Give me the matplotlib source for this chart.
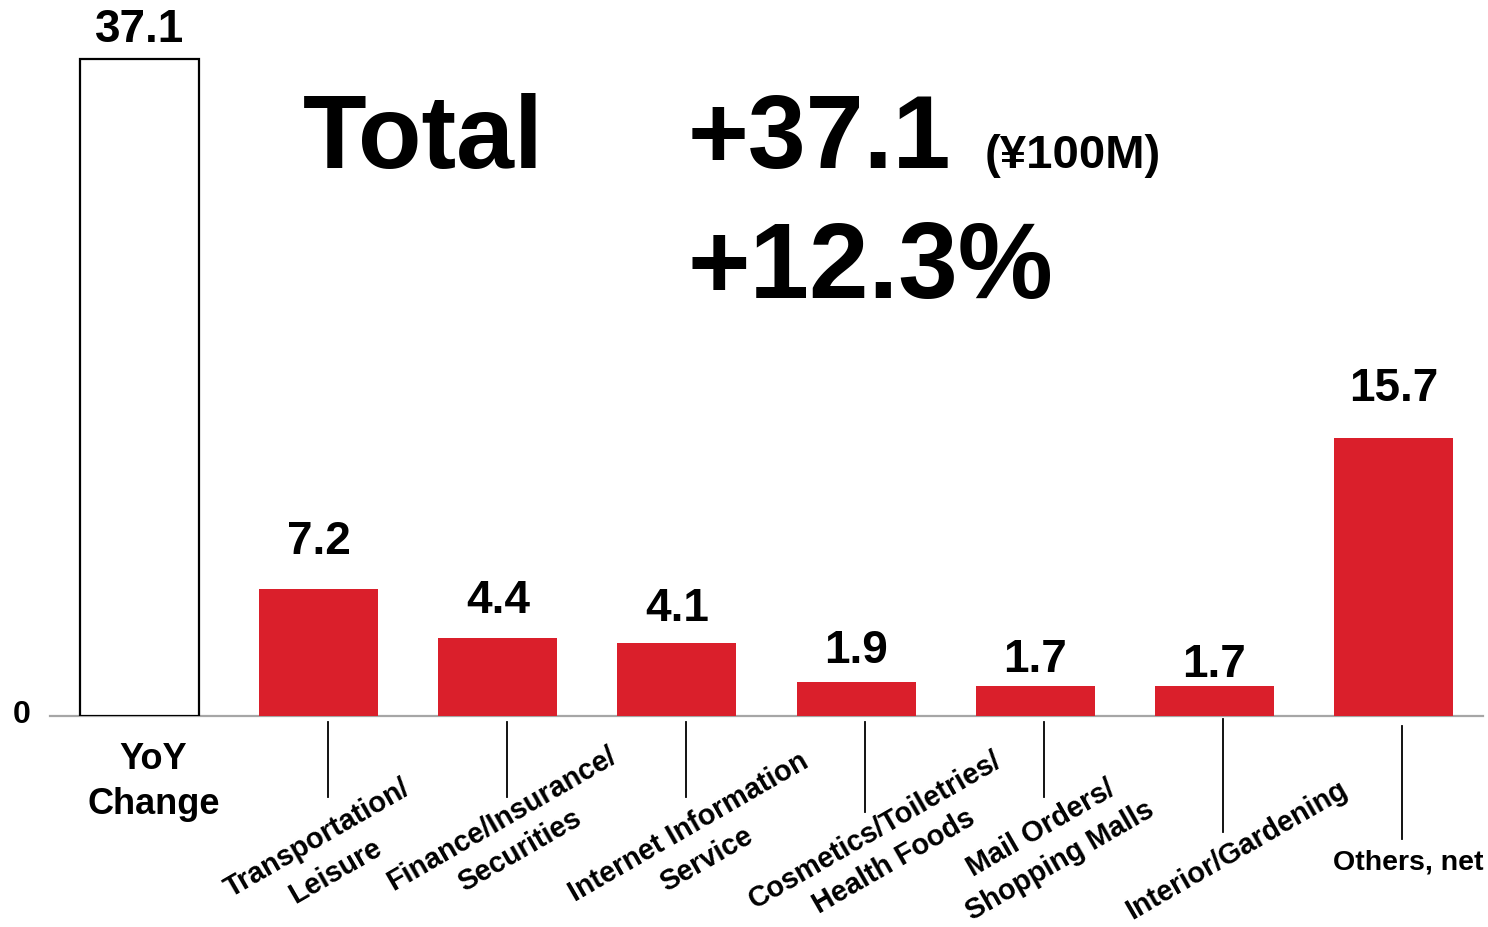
import math
import matplotlib.pyplot as plt

# YoY change by category (unit: 100M yen)
categories = ["YoY\nChange", "Transportation/\nLeisure", "Finance/Insurance/\nSecurities",
              "Internet Information\nService", "Cosmetics/Toiletries/\nHealth Foods",
              "Mail Orders/\nShopping Malls", "Interior/Gardening", "Others, net"]
values = [37.1, 7.2, 4.4, 4.1, 1.9, 1.7, 1.7, 15.7]
total_change = 37.1
total_pct = 12.3

W, H = 1488, 928
RED = "#da1f2b"

plt.rcParams["font.family"] = ["Liberation Sans", "DejaVu Sans"]
plt.rcParams["font.weight"] = "bold"

fig = plt.figure(figsize=(W / 100, H / 100), dpi=100)
ax_left, ax_base, ax_right = 50, 717, 1483
ax = fig.add_axes([ax_left / W, (H - ax_base) / H, (ax_right - ax_left) / W, ax_base / H])

x = list(range(len(values)))
colors = ["white"] + [RED] * (len(values) - 1)
edges = ["black"] + [RED] * (len(values) - 1)
lws = [1.6] + [0] * (len(values) - 1)
ax.bar(x, values, width=0.665, color=colors, edgecolor=edges, linewidth=lws, zorder=3)

ax.set_xlim(-0.5, 7.5)
ax.set_ylim(0, 40.5)
for side in ["left", "right", "top"]:
    ax.spines[side].set_visible(False)
ax.spines["bottom"].set_color("#a6a6a6")
ax.spines["bottom"].set_linewidth(1.6)
ax.set_xticks([])
ax.set_yticks([])

# "0" at the baseline
fig.text(22 / W, 1 - 715 / H, "0", ha="center", va="center", fontsize=23, fontweight="bold")

# value labels above bars
label_gap_px = [34, 52, 42, 40, 37, 31, 26, 54]
for i, v in enumerate(values):
    ax.annotate(f"{v:.1f}", xy=(i, v), xytext=(0, label_gap_px[i] * 0.72 - 3),
                textcoords="offset points", ha="center", va="center",
                fontsize=33, fontweight="bold")


def px_to_axes_y(ypix):
    return (ax_base - ypix) / ax_base


def px_to_data_x(xpix):
    return (xpix - 139) / 179.1


# leader lines below the axis
leader_top = [723, 723, 723, 723, 723, 720, 727]
leader_bottom = [798, 798, 798, 813, 798, 833, 840]
trans = ax.get_xaxis_transform()
for k, i in enumerate(range(1, len(values))):
    lx = i + 0.05
    ax.plot([lx, lx], [px_to_axes_y(leader_top[k]), px_to_axes_y(leader_bottom[k])],
            color="black", lw=1.3, transform=trans, clip_on=False)

# category labels, one text per line so each line sits on its own
label_x_px = [153, 326, 510, 697, 884, 1050, 1236, 1408]
label_y_px = [782, 855, 835, 843, 846, 845, 850, 863]
label_rot = [0, 30, 30, 30, 30, 30, 30, 0]
label_size = [26, 20.7, 20.7, 20.7, 20.7, 20.7, 20.7, 20.5]
line_step_px = [45, 37, 37, 37, 37, 37, 37, 37]
for i, name in enumerate(categories):
    lines = name.split("\n")
    rot = math.radians(label_rot[i])
    for j, line in enumerate(lines):
        shift = (j - (len(lines) - 1) / 2) * line_step_px[i]
        dx = shift * math.sin(rot) * 0.72
        dy = -shift * math.cos(rot) * 0.72
        ax.annotate(line, xy=(px_to_data_x(label_x_px[i]), px_to_axes_y(label_y_px[i])),
                    xycoords=trans, xytext=(dx, dy), textcoords="offset points",
                    ha="center", va="center", rotation=label_rot[i],
                    rotation_mode="anchor", fontsize=label_size[i], fontweight="bold",
                    annotation_clip=False)

# headline
fig.text(303 / W, 1 - 168 / H, "Total", fontsize=75, fontweight="bold", va="baseline")
fig.text(688 / W, 1 - 168 / H, f"+{total_change:.1f}", fontsize=75, fontweight="bold", va="baseline")
fig.text(985 / W, 1 - 168 / H, "(¥100M)", fontsize=34, fontweight="bold", va="baseline")
fig.text(688 / W, 1 - 298 / H, f"+{total_pct:.1f}%", fontsize=77, fontweight="bold", va="baseline")

fig.savefig("out.png", dpi=100, facecolor="white")
